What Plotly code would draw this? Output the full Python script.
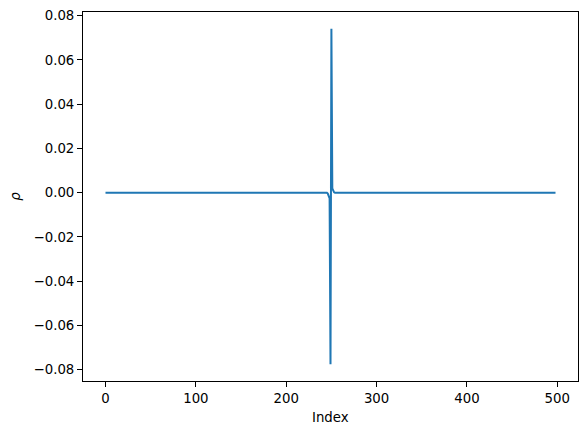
import plotly.graph_objects as go

# valores: zero em quase tudo, pico perto do indice 250
n_pontos = 499
inicio_pico = 246
pico = [-0.0004, -0.0012, -0.0025, -0.0775, 0.0741, 0.0020, 0.0006, 0.0002]
rho = [0.0] * inicio_pico + pico
rho = rho + [0.0] * (n_pontos - len(rho))
indice = list(range(n_pontos))

x_ticks = [0, 100, 200, 300, 400, 500]
y_ticks = [-0.08, -0.06, -0.04, -0.02, 0.0, 0.02, 0.04, 0.06, 0.08]

fonte = dict(family='DejaVu Sans', size=13.3, color='black')

fig = go.Figure()
fig.add_trace(go.Scatter(x=indice,
                         y=rho,
                         mode='lines',
                         line=dict(color='#1f77b4', width=2),
                         showlegend=False))

# margens de 5% como no matplotlib
xmin, xmax = min(indice), max(indice)
dx = (xmax - xmin) * 0.05
ymin, ymax = min(rho), max(rho)
dy = (ymax - ymin) * 0.05

eixo = dict(showgrid=False, zeroline=False, showline=True, linecolor='black',
            linewidth=1, mirror=True, ticks='outside', ticklen=5, tickwidth=1,
            tickcolor='black', tickfont=fonte, automargin=False)

# a pagina tem 8px de margem no body, por isso a figura e um pouco menor
fig.update_layout(width=580, height=426,
                  margin=dict(l=75, r=10, t=4, b=53),
                  plot_bgcolor='white', paper_bgcolor='white',
                  font=fonte)
fig.update_xaxes(range=[xmin - dx, xmax + dx], tickvals=x_ticks, **eixo)
fig.update_yaxes(range=[ymin - dy, ymax + dy], tickvals=y_ticks, tickformat='.2f', **eixo)

# titulos dos eixos como anotacoes para acertar a posicao
fig.add_annotation(text='Index', xref='paper', yref='paper', x=0.5, y=-0.098,
                   xanchor='center', yanchor='middle', showarrow=False, font=fonte)
fig.add_annotation(text='<i>ρ</i>', xref='paper', yref='paper', x=-0.137, y=0.5,
                   xanchor='center', yanchor='middle', textangle=-90,
                   showarrow=False, font=fonte)

fig.write_html('out.html')
